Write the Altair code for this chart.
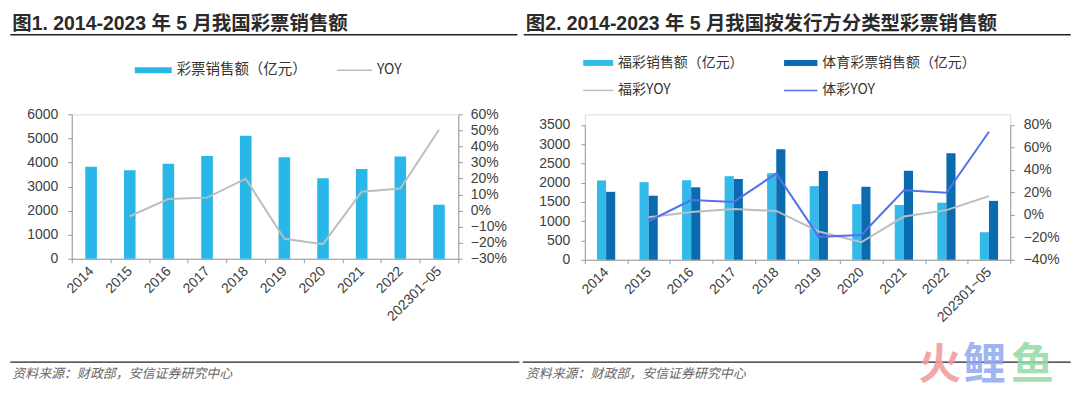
import altair as alt
import pandas as pd

# ---------------- data ----------------
years = ["2014", "2015", "2016", "2017", "2018", "2019", "2020", "2021", "2022", "202301~05"]
total_sales = [3823, 3679, 3946, 4267, 5115, 4221, 3340, 3733, 4247, 2245]
total_yoy = [None, -3.5, 7.3, 8.1, 19.9, -17.5, -20.9, 11.8, 13.8, 50.4]

welfare_sales = [2060, 2015, 2065, 2170, 2246, 1912, 1445, 1423, 1482, 715]
sports_sales = [1764, 1664, 1882, 2097, 2869, 2308, 1895, 2310, 2765, 1530]
welfare_yoy = [None, -2.2, 2.5, 5.1, 3.5, -14.8, -24.4, -1.5, 4.2, 16.7]
sports_yoy = [None, -5.7, 13.1, 11.5, 36.8, -19.6, -17.9, 21.9, 19.7, 74.0]

left_ticks = [0, 1000, 2000, 3000, 4000, 5000, 6000]
left_pct_ticks = [-30, -20, -10, 0, 10, 20, 30, 40, 50, 60]
right_ticks = [0, 500, 1000, 1500, 2000, 2500, 3000, 3500]
right_pct_ticks = [-40, -20, 0, 20, 40, 60, 80]

# ---------------- styles ----------------
C_BAR = "#29B6E8"
C_LIGHT = "#33B9EA"
C_DARK = "#0A6BB0"
C_GRAY = "#BDBDBD"
C_BLUE = "#5670EE"
AX_COLOR = "#9A9A9A"
LAB_COLOR = "#404040"
LAT = "Liberation Sans"
CJK = "Noto Sans CJK SC"
MIX = "Liberation Sans, Noto Sans CJK SC"

one = pd.DataFrame({"d": [0]})


def txt(s, x, y, size, color="#222222", weight="normal", style="normal", font=MIX, opacity=1.0):
    return alt.Chart(one).mark_text(
        align="left", baseline="middle", fontSize=size, color=color,
        fontWeight=weight, fontStyle=style, font=font, opacity=opacity
    ).encode(x=alt.value(x), y=alt.value(y), text=alt.value(s))


def hline(x1, x2, y, color="#222222", width=1.5):
    return alt.Chart(one).mark_rule(color=color, strokeWidth=width).encode(
        x=alt.value(x1), x2=alt.value(x2), y=alt.value(y))


def swatch(x1, x2, y1, y2, color):
    return alt.Chart(one).mark_rect(color=color).encode(
        x=alt.value(x1), x2=alt.value(x2), y=alt.value(y1), y2=alt.value(y2))


def x_axis():
    return alt.Axis(title=None, labelAngle=-45, labelAlign="right", labelBaseline="middle",
                    tickBand="extent", tickSize=4, labelPadding=6, domainColor=AX_COLOR,
                    tickColor=AX_COLOR, labelFont=LAT, labelFontSize=14, labelColor=LAB_COLOR,
                    grid=False)


def y_axis(values, orient, pad, fmt):
    return alt.Axis(values=values, orient=orient, title=None, grid=False, tickSize=4,
                    labelPadding=pad, domainColor=AX_COLOR, tickColor=AX_COLOR,
                    labelFont=LAT, labelFontSize=14, labelColor=LAB_COLOR, format=fmt)


# ---------------- left panel ----------------
df_left = pd.DataFrame({"year": years, "sales": total_sales,
                        "yoy": [None if v is None else v / 100 for v in total_yoy]})
df_left_line = df_left.dropna(subset=["yoy"])

xs_left = alt.X("year:N", sort=years, scale=alt.Scale(paddingInner=0, paddingOuter=0), axis=x_axis())

bars_left = alt.Chart(df_left).mark_bar(color=C_BAR, width=alt.RelativeBandSize(0.3)).encode(
    x=xs_left,
    y=alt.Y("sales:Q", scale=alt.Scale(domain=[0, 6000], nice=False),
            axis=y_axis(left_ticks, "left", 10, "d")))

line_left = alt.Chart(df_left_line).mark_line(color=C_GRAY, strokeWidth=2).encode(
    x=alt.X("year:N", sort=years),
    y=alt.Y("yoy:Q", scale=alt.Scale(domain=[-0.3, 0.6], nice=False),
            axis=y_axis([v / 100 for v in left_pct_ticks], "right", 8, ".0%")))

deco_left = [
    txt("图1. 2014-2023 年 5 月我国彩票销售额", -59.7, -90.3, 19.5, "#2a2a2a", "bold"),
    hline(-61.7, 447.3, -79.8),
    swatch(63.3, 100.3, -47.3, -41.3, C_BAR),
    txt("彩票销售额（亿元）", 105.3, -44.3, 14.5, "#333333", font=CJK),
    hline(266.3, 301.3, -44.3, C_GRAY, 1.5),
    txt("YOY", 306.3, -44.3, 14, "#333333", font=CJK),
    hline(-61.7, 449.3, 248.7, "#222222", 1.2),
    txt("资料来源：财政部，安信证券研究中心", -59.7, 260.7, 13, "#666666", style="italic", font=CJK),
]

left = alt.layer(bars_left, line_left, *deco_left).resolve_scale(y="independent").properties(
    width=388, height=145)

# ---------------- right panel ----------------
types = ["福彩", "体彩"]
df_right = pd.DataFrame({
    "year": years * 2,
    "type": [types[0]] * len(years) + [types[1]] * len(years),
    "sales": welfare_sales + sports_sales,
})
df_right_line = pd.DataFrame({
    "year": years * 2,
    "type": [types[0]] * len(years) + [types[1]] * len(years),
    "yoy": [None if v is None else v / 100 for v in welfare_yoy + sports_yoy],
}).dropna(subset=["yoy"])

RW = 427
RH = 146               # right panel view height (shares top edge with left panel)
R_RANGE = [RH, 10.7]   # plot area of right chart starts 10.7px lower

xs_right = alt.X("year:N", sort=years, scale=alt.Scale(paddingInner=0, paddingOuter=0), axis=x_axis())

bars_right = alt.Chart(df_right).mark_bar().encode(
    x=xs_right,
    xOffset=alt.XOffset("type:N", sort=types,
                        scale=alt.Scale(range=[12.2, 30.5], paddingInner=0, paddingOuter=0)),
    color=alt.Color("type:N", scale=alt.Scale(domain=types, range=[C_LIGHT, C_DARK]), legend=None),
    y=alt.Y("sales:Q", scale=alt.Scale(domain=[0, 3500], nice=False, range=R_RANGE),
            axis=y_axis(right_ticks, "left", 11, "d")))

line_right = alt.Chart(df_right_line).mark_line(strokeWidth=2).encode(
    x=alt.X("year:N", sort=years),
    stroke=alt.Stroke("type:N", scale=alt.Scale(domain=types, range=[C_GRAY, C_BLUE]), legend=None),
    y=alt.Y("yoy:Q", scale=alt.Scale(domain=[-0.4, 0.8], nice=False, range=R_RANGE),
            axis=y_axis([v / 100 for v in right_pct_ticks], "right", 9, ".0%")))

deco_right = [
    txt("图2. 2014-2023 年 5 月我国按发行方分类型彩票销售额", -59.3, -90.3, 19.5, "#2a2a2a", "bold"),
    hline(-61.3, 487.7, -79.8),
    swatch(-1.6, 28.4, -54.6, -48.6, C_LIGHT),
    txt("福彩销售额（亿元）", 33.4, -51.6, 14, "#333333", font=CJK),
    swatch(200, 233.4, -54.6, -48.6, C_DARK),
    txt("体育彩票销售额（亿元）", 238.4, -51.6, 14, "#333333", font=CJK),
    hline(-1.6, 28.4, -24, C_GRAY, 1.5),
    txt("福彩YOY", 33.4, -24, 14, "#333333", font=CJK),
    hline(200, 233.4, -24, C_BLUE, 1.5),
    txt("体彩YOY", 238.4, -24, 14, "#333333", font=CJK),
    hline(-62.3, 487.7, 248.7, "#222222", 1.2),
    txt("资料来源：财政部，安信证券研究中心", -59.3, 260.7, 13, "#666666", style="italic", font=CJK),
    txt("火", 334.7, 252.7, 43, "#F29A9A", "bold", font=CJK, opacity=0.85),
    txt("鲤", 379.7, 252.7, 43, "#8EA9F0", "bold", font=CJK, opacity=0.85),
    txt("鱼", 427.7, 252.7, 43, "#94DAA6", "bold", font=CJK, opacity=0.85),
]

right = alt.layer(bars_right, line_right, *deco_right).resolve_scale(y="independent").properties(
    width=RW, height=RH)

chart = alt.hconcat(left, right, spacing=0).properties(
    padding={"left": 1, "top": 5, "right": 0, "bottom": 0}
).configure_view(strokeWidth=0).configure(background="white")

chart.save("out.html", embed_options={"renderer": "svg", "actions": False})
